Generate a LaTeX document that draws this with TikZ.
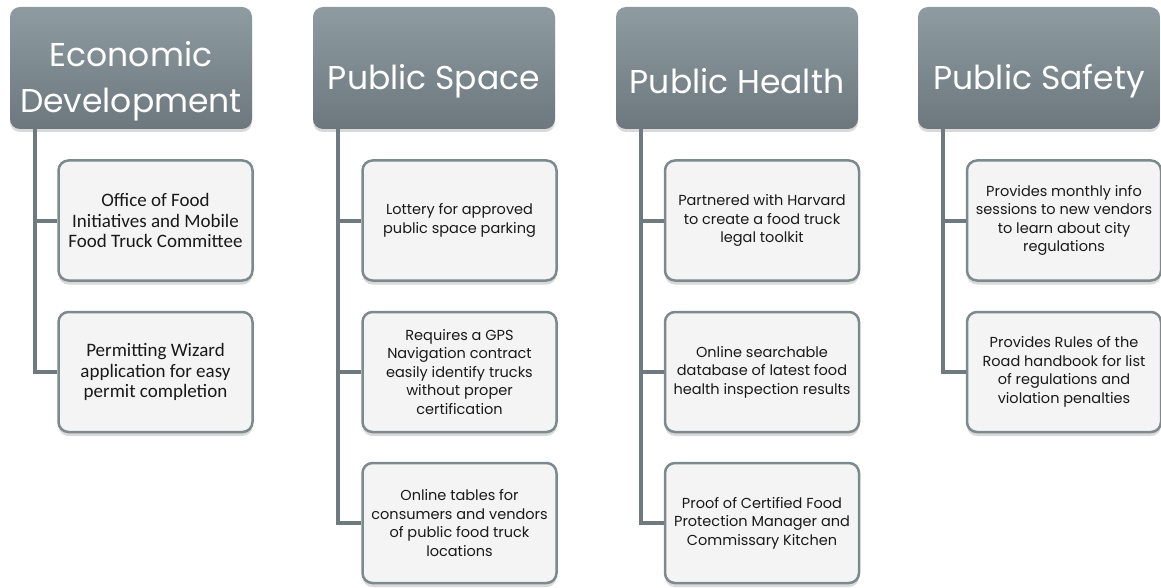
\documentclass[tikz,border=0pt]{standalone}
\usepackage{fontspec}
\setmainfont{Poppins}
\newfontfamily\calibrifont{Carlito}
\usetikzlibrary{shadows}
\definecolor{hdrtop}{RGB}{142,155,160}
\definecolor{hdrbot}{RGB}{108,120,126}
\definecolor{itemfill}{RGB}{244,244,244}
\definecolor{itemedge}{RGB}{124,137,141}
\definecolor{linkgray}{RGB}{110,122,127}

\tikzset{
  header/.style={rounded corners=10pt, minimum width=242pt, minimum height=122pt,
    top color=hdrtop, bottom color=hdrbot,
    drop shadow={shadow xshift=0pt, shadow yshift=-3pt, opacity=0.3}},
  headtext/.style={text=white, align=center, yshift=-13pt,
    font=\fontsize{33}{46}\selectfont},
  item/.style={rounded corners=10pt, minimum width=194pt, minimum height=120pt,
    fill=itemfill, draw=itemedge, line width=2.5pt, align=center, text=black!90,
    font=\fontsize{14.5}{18.5}\selectfont,
    drop shadow={shadow xshift=0pt, shadow yshift=-4pt, opacity=0.3}},
  calibri/.style={font=\calibrifont\fontsize{19}{20.5}\selectfont},
  link/.style={draw=linkgray, line width=4pt},
}

\begin{document}
\begin{tikzpicture}[x=1pt, y=-1pt]
\useasboundingbox (0, 0) rectangle (1161, 588);

% Economic Development
\node[header, label={[headtext]center:Economic\\Development}] (eco) at (131, 68) {};
\node[item, calibri] (eco1) at (155.5, 220.5) {Office of Food\\Initiatives and Mobile\\Food Truck Committee};
\node[item, calibri] (eco2) at (155.5, 372) {Permitting Wizard\\application for easy\\permit completion};
\draw[link] ([xshift=25pt]eco.south west) |- (eco2.west);
\draw[link] ([xshift=25pt]eco.south west |- eco1.west) -- (eco1.west);

% Public Space
\node[header, label={[headtext]center:Public Space}] (space) at (434, 68) {};
\node[item] (space1) at (459.5, 220.5) {Lottery for approved\\public space parking};
\node[item] (space2) at (459.5, 372) {Requires a GPS\\Navigation contract\\easily identify trucks\\without proper\\certification};
\node[item] (space3) at (459.5, 523) {Online tables for\\consumers and vendors\\of public food truck\\locations};
\draw[link] ([xshift=25pt]space.south west) |- (space3.west);
\draw[link] ([xshift=25pt]space.south west |- space1.west) -- (space1.west);
\draw[link] ([xshift=25pt]space.south west |- space2.west) -- (space2.west);

% Public Health
\node[header, label={[headtext]center:Public Health}] (health) at (737, 68) {};
\node[item] (health1) at (762, 220.5) {Partnered with Harvard\\to create a food truck\\legal toolkit};
\node[item] (health2) at (762, 372) {Online searchable\\database of latest food\\health inspection results};
\node[item] (health3) at (762, 523) {Proof of Certified Food\\Protection Manager and\\Commissary Kitchen};
\draw[link] ([xshift=25pt]health.south west) |- (health3.west);
\draw[link] ([xshift=25pt]health.south west |- health1.west) -- (health1.west);
\draw[link] ([xshift=25pt]health.south west |- health2.west) -- (health2.west);

% Public Safety
\node[header, label={[headtext]center:Public Safety}] (safety) at (1039, 68) {};
\node[item] (safety1) at (1064, 220.5) {Provides monthly info\\sessions to new vendors\\to learn about city\\regulations};
\node[item] (safety2) at (1064, 372) {Provides Rules of the\\Road handbook for list\\of regulations and\\violation penalties};
\draw[link] ([xshift=25pt]safety.south west) |- (safety2.west);
\draw[link] ([xshift=25pt]safety.south west |- safety1.west) -- (safety1.west);
\end{tikzpicture}
\end{document}
